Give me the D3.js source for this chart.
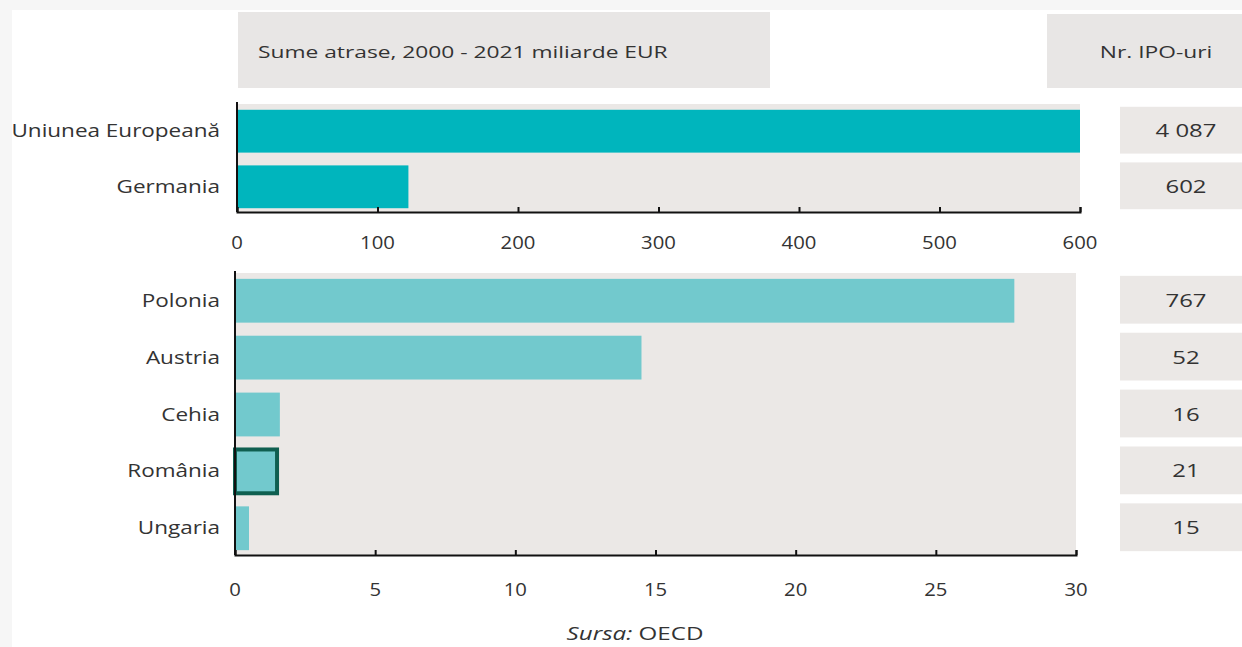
<!DOCTYPE html>
<html><head><meta charset="utf-8">
<script src="https://cdn.jsdelivr.net/npm/d3@7"></script>
<style>
html,body{margin:0;padding:0;background:#f6f6f6;}
svg{display:block;}
text{font-family:"Open Sans",Lato,sans-serif;fill:#333;}
</style></head><body>
<svg id="c" width="1242" height="647"></svg>
<script>
const topCategories = ["Uniunea Europeană","Germania"];
const topValues = [600, 122];
const topIPO = ["4 087","602"];
const topTicks = [0,100,200,300,400,500,600];

const botCategories = ["Polonia","Austria","Cehia","România","Ungaria"];
const botValues = [27.8, 14.5, 1.6, 1.5, 0.5];
const botIPO = ["767","52","16","21","15"];
const botTicks = [0,5,10,15,20,25,30];
const highlight = "România";

const headerLeft = "Sume atrase, 2000 - 2021 miliarde EUR";
const headerRight = "Nr. IPO-uri";

const svg = d3.select("#c");
svg.append("rect").attr("x",12).attr("y",10).attr("width",1230).attr("height",637).attr("fill","#ffffff");

function stretchText(g, x, y, str, anchor, size, sx){
  return g.append("text").attr("transform",`translate(${x},${y}) scale(${sx},1)`)
    .attr("text-anchor",anchor).attr("font-size",size).text(str);
}

// headers
svg.append("rect").attr("x",238).attr("y",12).attr("width",532).attr("height",76).attr("fill","#e8e6e5");
svg.append("rect").attr("x",1047).attr("y",14).attr("width",195).attr("height",74).attr("fill","#e8e6e5");
stretchText(svg,258,58,headerLeft,"start",17,1.34);
stretchText(svg,1156,58,headerRight,"middle",17,1.34);

function panel(cats, vals, ipo, ticks, xr, yr, plotY0, plotY1, color, labelOff){
  const x = d3.scaleLinear().domain([ticks[0], ticks[ticks.length-1]]).range(xr);
  const y = d3.scaleBand().domain(cats).range(yr).paddingInner(0.23).paddingOuter(0.05);
  const g = svg.append("g");
  g.append("rect").attr("x",xr[0]).attr("y",plotY0).attr("width",xr[1]-xr[0]).attr("height",plotY1-plotY0).attr("fill","#ebe8e6");
  g.selectAll("rect.bar").data(cats).enter().append("rect").attr("class","bar")
    .attr("x",x(0)).attr("y",d=>y(d)).attr("width",(d,i)=>x(vals[i])-x(0)).attr("height",y.bandwidth())
    .attr("fill",color)
    .attr("stroke",d=>d===highlight?"#0f5f50":"none").attr("stroke-width",d=>d===highlight?4:0);
  const ax = g.append("g").attr("transform",`translate(0,${plotY1})`)
    .call(d3.axisBottom(x).tickValues(ticks).tickSizeInner(-5).tickSizeOuter(-5).tickFormat(d3.format("d")));
  ax.select(".domain").attr("stroke","#111").attr("stroke-width",2);
  ax.selectAll(".tick line").attr("stroke","#111").attr("stroke-width",2);
  ax.selectAll(".tick text").remove();
  ticks.forEach(t=>stretchText(g, x(t), plotY1+labelOff, String(t), "middle", 17.5, 1.16));
  g.append("line").attr("x1",xr[0]).attr("x2",xr[0]).attr("y1",plotY0-2).attr("y2",plotY1).attr("stroke","#111").attr("stroke-width",2);
  cats.forEach(c=>stretchText(g, 220, y(c)+y.bandwidth()/2+6, c, "end", 18, 1.25));
  cats.forEach((c,i)=>{
    g.append("rect").attr("x",1120).attr("y",y(c)-3).attr("width",122).attr("height",y.bandwidth()+4).attr("fill","#ebe8e6");
    stretchText(g, 1186, y(c)+y.bandwidth()/2+6, ipo[i], "middle", 18, 1.33);
  });
}

panel(topCategories, topValues, topIPO, topTicks, [237,1080], [107,211], 104, 212, "#00b5bd", 37);
panel(botCategories, botValues, botIPO, botTicks, [235,1076], [276,553], 273, 555, "#72c9cd", 41);

const src = svg.append("text").attr("transform","translate(635,640) scale(1.38,1)").attr("text-anchor","middle").attr("font-size",17.5);
src.append("tspan").attr("font-style","italic").text("Sursa:");
src.append("tspan").text(" OECD");
</script>
</body></html>
